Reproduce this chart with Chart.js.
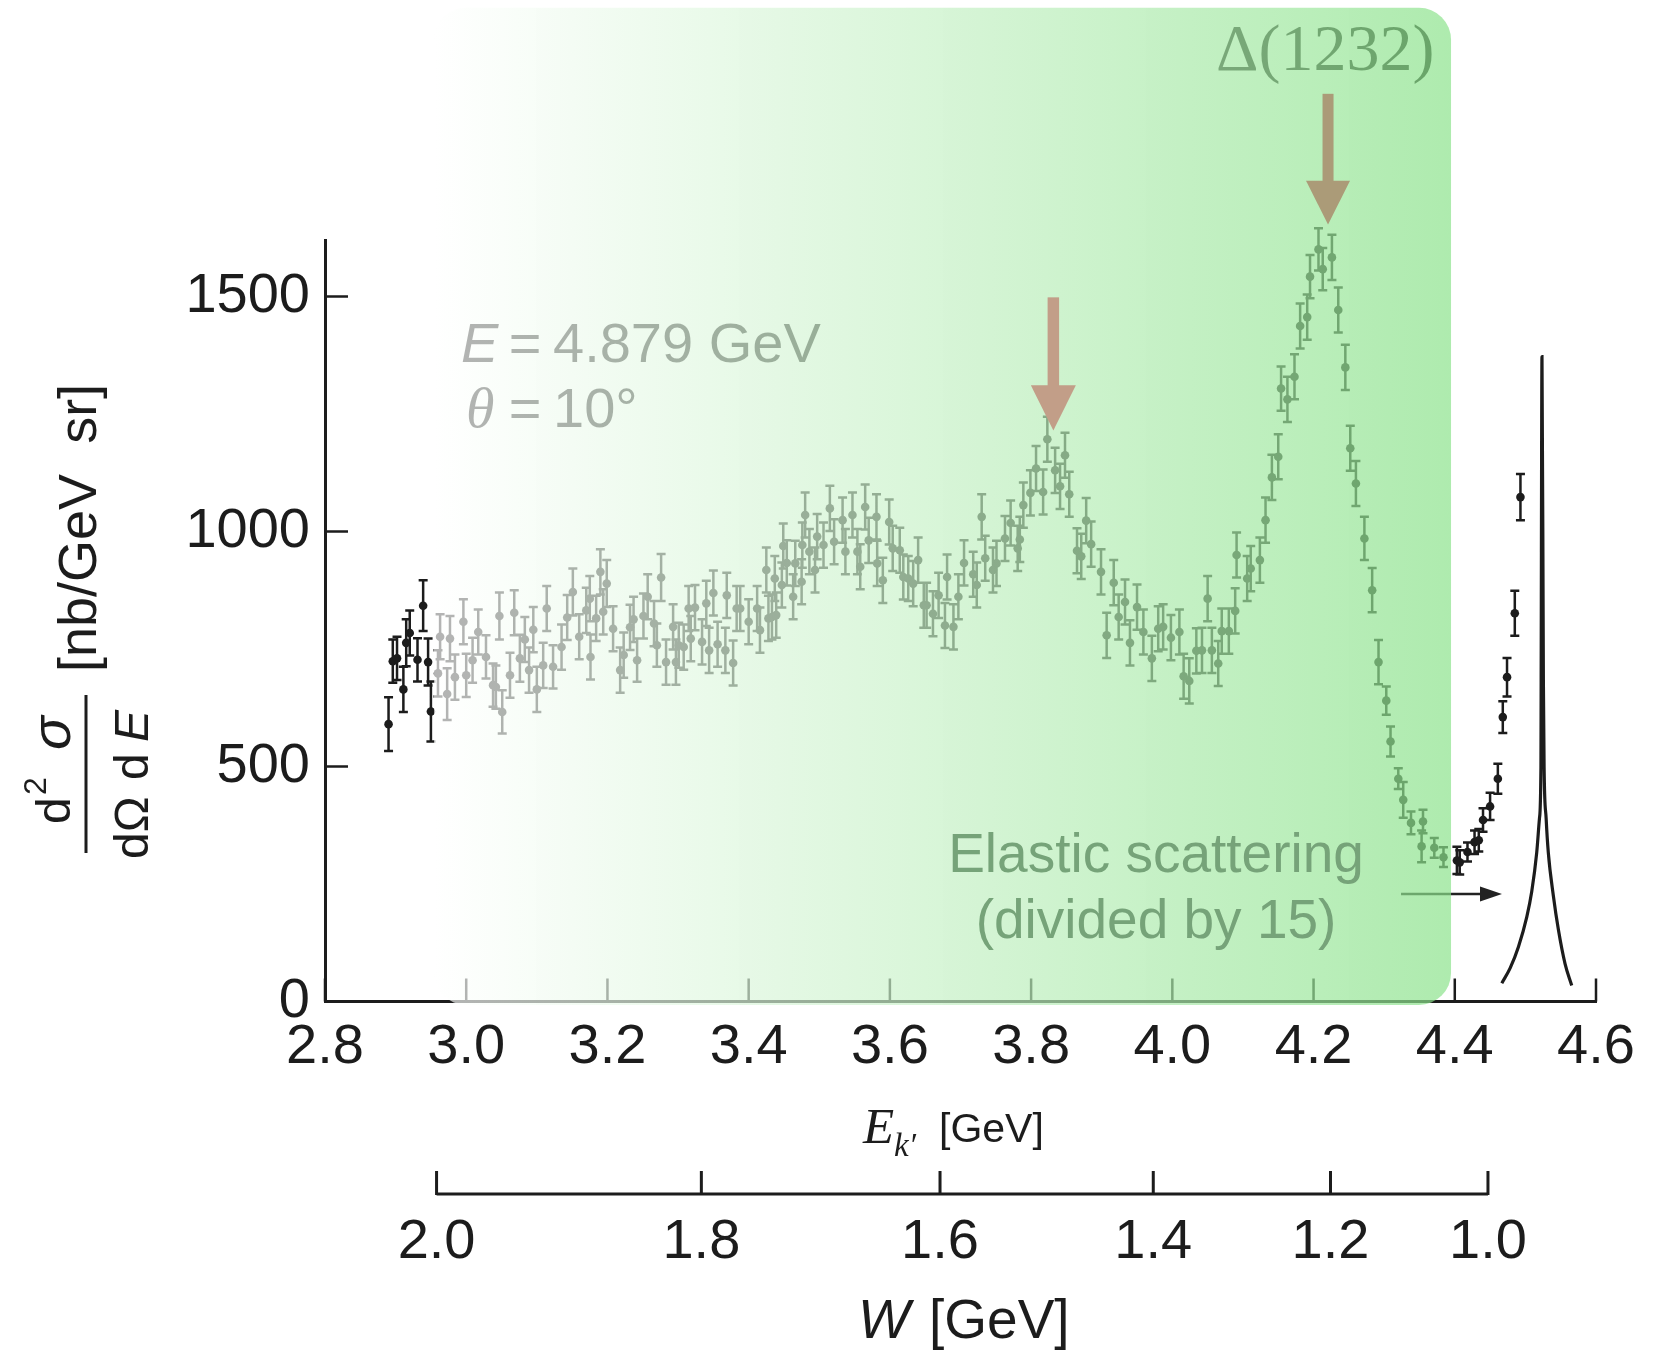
<!DOCTYPE html>
<html><head><meta charset="utf-8">
<script src="https://cdn.jsdelivr.net/npm/chart.js@4.4.1/dist/chart.umd.min.js"></script>
<style>html,body{margin:0;padding:0;background:#fff;overflow:hidden}#wrap{width:1665px;height:1351px;position:relative}canvas{display:block}</style>
</head><body><div id="wrap"><canvas id="c" width="1665" height="1351"></canvas></div>
<script>
// ---- data ----
const energies = [2.890,2.896,2.902,2.911,2.915,2.920,2.931,2.939,2.946,2.950,
2.960,2.963,2.973,2.977,2.984,2.996,3.000,3.009,3.017,3.028,3.038,3.042,3.047,3.051,3.062,3.068,3.076,3.083,3.089,3.095,
3.100,3.109,3.114,3.123,3.135,3.143,3.151,3.160,3.170,3.175,3.176,3.184,3.190,3.194,3.199,3.208,3.218,3.223,3.232,3.237,
3.242,3.251,3.257,3.266,3.270,3.276,3.283,3.293,3.297,3.301,3.308,3.315,3.318,3.324,3.334,3.340,3.344,3.350,3.356,3.367,
3.369,3.378,3.383,3.388,3.400,3.412,3.416,3.425,3.428,3.433,3.437,3.439,3.447,3.449,3.454,3.463,3.466,3.475,3.476,3.480,
3.486,3.494,3.497,3.506,3.515,3.521,3.533,3.537,3.547,3.554,3.558,3.565,3.570,3.581,3.582,3.590,3.599,3.604,3.614,3.619,
3.626,3.633,3.640,3.648,3.652,3.661,3.669,3.678,3.681,3.690,3.697,3.705,3.718,3.723,3.730,3.735,3.746,3.751,3.763,3.771,
3.781,3.784,3.789,3.799,3.807,3.817,3.823,3.834,3.841,3.848,3.854,3.865,3.871,3.878,3.885,3.899,3.907,3.917,3.924,3.933,
3.940,3.950,3.959,3.971,3.980,3.987,3.998,4.010,4.016,4.024,4.034,4.042,4.050,4.056,4.065,4.070,4.080,4.089,4.091,4.106,
4.111,4.124,4.132,4.141,4.150,4.154,4.163,4.173,4.181,4.191,4.195,4.207,4.213,4.226,4.235,4.245,4.252,4.260,4.272,4.283,
4.292,4.303,4.309,4.320,4.327,4.338,4.353,4.355,4.371,4.384,4.403,4.407,4.418,4.428,4.434,4.440,4.450,4.461,4.468,4.474,
4.485,4.493];
const crossSection = [590,724,730,664,763,784,727,842,722,617,
698,776,654,772,690,808,694,726,786,733,673,669,820,616,694,827,730,770,705,791,
664,715,836,712,754,817,871,776,832,857,733,815,914,829,889,793,705,737,796,813,
726,820,861,804,758,902,722,797,722,758,754,836,772,838,765,847,747,869,760,747,
864,720,836,836,808,836,790,918,815,818,900,822,886,969,933,861,932,893,971,1035,
957,918,989,971,1049,978,1024,957,1035,957,925,1052,981,1031,932,896,1020,964,960,903,
900,889,939,843,843,825,864,800,903,797,861,933,909,886,1031,943,918,932,985,1018,
964,983,1056,1082,1134,1084,1196,1130,1096,1162,1079,959,947,1023,973,914,779,891,818,850,
763,839,786,730,793,797,774,786,692,682,746,747,857,747,719,788,788,831,950,900,
921,939,1024,1115,1159,1304,1281,1329,1437,1456,1542,1600,1558,1583,1471,1349,1177,1102,985,875,
722,640,553,474,429,380,330,383,327,307,300,296,318,339,343,386,415,474,605,690,
826,1073];
const errors = [57,46,46,48,50,48,46,54,50,64,
49,48,55,48,48,48,46,48,48,46,46,46,50,46,48,48,50,48,48,48,
48,48,48,46,48,48,50,48,48,48,48,48,48,48,50,48,48,48,48,48,
46,48,48,48,46,50,48,48,48,48,48,48,48,48,48,48,48,48,48,48,
48,48,48,48,48,48,48,48,48,48,48,48,48,48,48,48,48,48,48,48,
48,48,48,48,48,48,48,48,48,48,48,48,48,48,48,48,48,48,48,48,
48,48,48,48,48,48,48,48,48,48,48,48,48,48,48,48,48,48,48,48,
48,48,48,48,48,48,48,48,48,48,48,48,48,48,48,48,48,48,48,48,
48,48,48,48,48,48,48,48,48,48,48,48,48,48,48,48,48,48,48,48,
48,48,48,48,48,47,48,48,48,48,46,45,45,48,48,48,48,48,46,47,
47,30,32,22,38,24,34,25,21,21,29,26,20,25,24,25,29,32,34,41,
48,49];
// elastic peak (divided by 15), traced line
const elasticE = [4.4666,4.4784,4.4901,4.5020,4.5090,4.5160,4.5199,4.5220,4.5223,4.5235,4.5255,4.5265,4.5294,4.5325,4.5396,4.5467,4.5562,4.5656];
const elasticV = [39,71,116,180,234,316,389,498,680,1372,680,498,389,316,225,153,80,34];
// ticks
const xTicks = [2.8,3.0,3.2,3.4,3.6,3.8,4.0,4.2,4.4,4.6];
const yTicks = [0,500,1000,1500];
const wTickLabels = ['2.0','1.8','1.6','1.4','1.2','1.0'];
const wTickE = [2.958,3.333,3.671,3.973,4.224,4.447];
// annotation anchors (data coordinates)
const boxE = [2.9544,4.3947], boxV = [-7.4,2114];
const arrow38 = {e:3.8315, top:1498, head:1311, tip:1215};
const arrowDelta = {e:4.2205, top:1931, head:1746, tip:1653};
const elasticArrow = {e0:4.3239, e1:4.4669, v:228.6};

const SANS = '"Liberation Sans", Arial, Helvetica, sans-serif';
const SERIF = '"Liberation Serif", "Times New Roman", serif';
const INK = '#1c1c1c';

function txt(ctx, s, x, y, font, color, align){
  ctx.font = font; ctx.fillStyle = color; ctx.textAlign = align||'left'; ctx.textBaseline='alphabetic';
  ctx.fillText(s, x, y);
}
function rrect(ctx,x,y,w,h,r){
  ctx.beginPath();
  ctx.moveTo(x+r,y); ctx.lineTo(x+w-r,y); ctx.arcTo(x+w,y,x+w,y+r,r);
  ctx.lineTo(x+w,y+h-r); ctx.arcTo(x+w,y+h,x+w-r,y+h,r);
  ctx.lineTo(x+r,y+h); ctx.arcTo(x,y+h,x,y+h-r,r);
  ctx.lineTo(x,y+r); ctx.arcTo(x,y,x+r,y,r); ctx.closePath();
}
function downArrow(ctx, xs, ys, a, color, shaftW, headW){
  const x = xs.getPixelForValue(a.e);
  const yt = ys.getPixelForValue(a.top), yh = ys.getPixelForValue(a.head), yp = ys.getPixelForValue(a.tip);
  ctx.fillStyle = color;
  ctx.fillRect(x-shaftW/2, yt, shaftW, yh-yt+1);
  ctx.beginPath(); ctx.moveTo(x-headW/2, yh); ctx.lineTo(x+headW/2, yh); ctx.lineTo(x, yp); ctx.closePath(); ctx.fill();
}

const decor = {
  id:'decor',
  beforeDatasetsDraw(chart){
    const ctx = chart.ctx, xs = chart.scales.x, ys = chart.scales.y;
    ctx.save();
    ctx.strokeStyle = INK; ctx.lineWidth = 2.5;
    ctx.beginPath();
    for(let i=0;i<energies.length;i++){
      const x = xs.getPixelForValue(energies[i]);
      const y1 = ys.getPixelForValue(crossSection[i]-errors[i]);
      const y2 = ys.getPixelForValue(crossSection[i]+errors[i]);
      ctx.moveTo(x,y1); ctx.lineTo(x,y2);
      ctx.moveTo(x-4.5,y1); ctx.lineTo(x+4.5,y1);
      ctx.moveTo(x-4.5,y2); ctx.lineTo(x+4.5,y2);
    }
    ctx.stroke();
    ctx.restore();
  },
  afterDatasetsDraw(chart){
    const ctx = chart.ctx, xs = chart.scales.x, ys = chart.scales.y, ca = chart.chartArea;
    ctx.save();
    // inward ticks
    ctx.strokeStyle = INK; ctx.lineWidth = 2.5;
    ctx.beginPath();
    xTicks.forEach(v=>{const x=xs.getPixelForValue(v); ctx.moveTo(x,ca.bottom); ctx.lineTo(x,ca.bottom-23);});
    yTicks.forEach(v=>{const y=ys.getPixelForValue(v); ctx.moveTo(ca.left,y); ctx.lineTo(ca.left+23,y);});
    ctx.stroke();
    // texts under the tinted panel
    txt(ctx,'E',461,362,'italic 56px '+SANS,INK);
    txt(ctx,'=',525,362,'56px '+SANS,INK,'center');
    txt(ctx,'4.879 GeV',553,362,'56px '+SANS,INK);
    txt(ctx,'\u03B8',466,427,'italic 58px '+SERIF,INK);
    txt(ctx,'=',525,427,'56px '+SANS,INK,'center');
    txt(ctx,'10\u00B0',553,427,'56px '+SANS,INK);
    txt(ctx,'\u0394(1232)',1216,70,'66px '+SERIF,INK);
    // elastic arrow
    const ax0 = xs.getPixelForValue(elasticArrow.e0), ax1 = xs.getPixelForValue(elasticArrow.e1), ay = ys.getPixelForValue(elasticArrow.v);
    ctx.strokeStyle='#222'; ctx.lineWidth=2.5;
    ctx.beginPath(); ctx.moveTo(ax0,ay); ctx.lineTo(ax1-18,ay); ctx.stroke();
    ctx.fillStyle='#222'; ctx.beginPath(); ctx.moveTo(ax1-22,ay-7.5); ctx.lineTo(ax1,ay); ctx.lineTo(ax1-22,ay+7.5); ctx.closePath(); ctx.fill();
    // tinted panel
    const bx0 = xs.getPixelForValue(boxE[0]), bx1 = xs.getPixelForValue(boxE[1]);
    const by0 = ys.getPixelForValue(boxV[1]), by1 = ys.getPixelForValue(boxV[0]);
    const g = ctx.createLinearGradient(bx0,0,bx1,0);
    g.addColorStop(0,'rgba(255,255,255,0.67)');
    g.addColorStop(1,'rgba(138,226,138,0.69)');
    ctx.fillStyle = g; rrect(ctx,bx0,by0,bx1-bx0,by1-by0,32); ctx.fill();
    // arrows on top
    downArrow(ctx,xs,ys,arrow38,'rgb(194,158,136)',11.5,45);
    downArrow(ctx,xs,ys,arrowDelta,'rgb(171,155,120)',11,44);
    // elastic label
    txt(ctx,'Elastic scattering',1156,872,'55px '+SANS,'rgb(118,163,121)','center');
    txt(ctx,'(divided by 15)',1156,938,'55px '+SANS,'rgb(118,163,121)','center');
    ctx.restore();
  },
  afterDraw(chart){
    const ctx = chart.ctx, xs = chart.scales.x;
    ctx.save();
    // E_k' axis title
    txt(ctx,'E',863,1143,'italic 51px '+SERIF,INK);
    txt(ctx,'k\u2032',894,1156,'italic 33px '+SERIF,INK);
    txt(ctx,'[GeV]',939,1142,'41px '+SANS,INK);
    // W axis
    const wx = wTickE.map(e=>xs.getPixelForValue(e));
    ctx.strokeStyle = INK; ctx.lineWidth = 3;
    ctx.beginPath(); ctx.moveTo(wx[0],1194); ctx.lineTo(wx[wx.length-1],1194);
    wx.forEach(x=>{ctx.moveTo(x,1195); ctx.lineTo(x,1171);});
    ctx.stroke();
    wx.forEach((x,i)=>txt(ctx,wTickLabels[i],x,1258,'56px '+SANS,INK,'center'));
    txt(ctx,'W',858,1338,'italic 55px '+SANS,INK);
    txt(ctx,'[GeV]',929,1338,'55px '+SANS,INK);
    // y-axis title (rotated)
    ctx.translate(86,774); ctx.rotate(-Math.PI/2);
    ctx.fillStyle = INK; ctx.fillRect(-79,-1.5,158,3);
    txt(ctx,'d',-50,-16,'48px '+SANS,INK);
    txt(ctx,'2',-21,-40,'32px '+SANS,INK);
    txt(ctx,'\u03C3',24,-16,'italic 56px '+SANS,INK);
    txt(ctx,'d\u03A9',-85,62,'48px '+SANS,INK);
    txt(ctx,'d',-6,62,'48px '+SANS,INK);
    txt(ctx,'E',32,62,'italic 48px '+SANS,INK);
    txt(ctx,'[nb/GeV  sr]',102,10,'54px '+SANS,INK);
    ctx.restore();
  }
};

const chart = new Chart(document.getElementById('c').getContext('2d'), {
  type:'scatter',
  data:{datasets:[
    {label:'data', data: energies.map((e,i)=>({x:e,y:crossSection[i]})), pointRadius:4.3, pointHoverRadius:4.3,
     pointBackgroundColor:INK, pointBorderWidth:0, showLine:false},
    {label:'elastic', data: elasticE.map((e,i)=>({x:e,y:elasticV[i]})), showLine:true, borderColor:INK, borderWidth:3.2,
     pointRadius:0, cubicInterpolationMode:'monotone', fill:false}
  ]},
  options:{
    responsive:false, animation:false, devicePixelRatio:1,
    layout:{padding:{left:0,right:69,top:240,bottom:0}},
    plugins:{legend:{display:false}, tooltip:{enabled:false}},
    events:[],
    scales:{
      x:{type:'linear', min:2.8, max:4.6, position:'bottom',
        afterBuildTicks:s=>{s.ticks = xTicks.map(v=>({value:v}));},
        afterFit:s=>{s.height = 349.5;},
        border:{display:true,color:INK,width:3},
        grid:{display:false,drawTicks:false},
        ticks:{font:{family:SANS,size:56}, color:INK, padding:12, maxRotation:0, autoSkip:false, callback:v=>Number(v).toFixed(1)}
      },
      y:{type:'linear', min:0, max:1620, position:'left',
        afterBuildTicks:s=>{s.ticks = yTicks.map(v=>({value:v}));},
        afterFit:s=>{s.width = 325;},
        border:{display:true,color:INK,width:3},
        grid:{display:false,drawTicks:false},
        ticks:{font:{family:SANS,size:56}, color:INK, padding:15, autoSkip:false, callback:v=>String(v)}
      }
    }
  },
  plugins:[decor]
});
</script>
</body></html>
